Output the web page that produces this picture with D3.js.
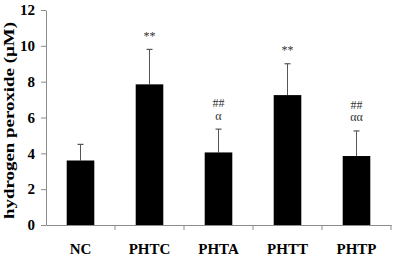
<!DOCTYPE html>
<html>
<head>
<meta charset="utf-8">
<script src="https://cdn.jsdelivr.net/npm/d3@7"></script>
<style>
  body { margin: 0; background: #fff; }
  text { font-family: "Liberation Serif", "Times New Roman", serif; }
</style>
</head>
<body>
<div id="main"></div>
<script>
const ctx = {
    w: 395,
    h: 257,
    x0: 46,
    x1: 391,
    yTop: 10,
    yBottom: 225,
    AXIS_GREY: "#8c8c8c",
};

// groups and values
const CATEGORIES = ["NC", "PHTC", "PHTA", "PHTT", "PHTP"];
const MEANS = [3.6, 7.85, 4.05, 7.25, 3.85];
const ERRORS = [0.9, 1.95, 1.3, 1.75, 1.4];
// significance marks, stacked top to bottom
const MARKS = [[], ["**"], ["##", "α"], ["**"], ["##", "αα"]];
const Y_TICKS = [0, 2, 4, 6, 8, 10, 12];
const Y_LABEL = "hydrogen peroxide (µM)";

function createViz() {
    let svgEl = d3.select("#main").append("svg")
        .attr("width", ctx.w)
        .attr("height", ctx.h);

    let x = d3.scaleBand()
        .domain(CATEGORIES)
        .range([ctx.x0, ctx.x1])
        .paddingInner(0.6)
        .paddingOuter(0.3);
    let y = d3.scaleLinear()
        .domain([0, 12])
        .range([ctx.yBottom, ctx.yTop]);

    // y axis
    let yAxis = svgEl.append("g")
        .attr("transform", `translate(${ctx.x0},0)`)
        .call(d3.axisLeft(y).tickValues(Y_TICKS).tickSize(5).tickPadding(6).tickSizeOuter(0));
    yAxis.select(".domain").attr("stroke", ctx.AXIS_GREY);
    yAxis.selectAll(".tick line").attr("stroke", ctx.AXIS_GREY);
    yAxis.selectAll(".tick text")
        .attr("font-family", "Liberation Serif")
        .attr("font-weight", "bold")
        .attr("font-size", 15)
        .attr("fill", "#000");

    // x axis: labels under bars, ticks on category boundaries
    let xAxis = svgEl.append("g")
        .attr("transform", `translate(0,${ctx.yBottom})`)
        .call(d3.axisBottom(x).tickSize(0).tickPadding(18).tickSizeOuter(0));
    xAxis.select(".domain").attr("stroke", ctx.AXIS_GREY);
    xAxis.selectAll(".tick text")
        .attr("font-family", "Liberation Serif")
        .attr("font-weight", "bold")
        .attr("font-size", 15)
        .attr("fill", "#000");
    let gap = (x.step() - x.bandwidth()) / 2;
    let bounds = CATEGORIES.slice(1).map((c) => x(c) - gap).concat([ctx.x1]);
    xAxis.selectAll(".sep")
        .data(bounds)
        .enter()
        .append("line")
        .attr("x1", (d) => d)
        .attr("x2", (d) => d)
        .attr("y1", 0)
        .attr("y2", 5)
        .attr("stroke", ctx.AXIS_GREY);

    // y axis title
    svgEl.append("text")
        .attr("transform", `translate(14,${(ctx.yTop + ctx.yBottom) / 2 + 3}) rotate(-90)`)
        .attr("text-anchor", "middle")
        .attr("font-weight", "bold")
        .attr("font-size", 14)
        .attr("textLength", 197)
        .attr("lengthAdjust", "spacingAndGlyphs")
        .text(Y_LABEL);

    // error bars (upper only)
    let eb = svgEl.append("g").selectAll("g")
        .data(CATEGORIES)
        .enter()
        .append("g");
    eb.append("line")
        .attr("x1", (d) => x(d) + x.bandwidth() / 2)
        .attr("x2", (d) => x(d) + x.bandwidth() / 2)
        .attr("y1", (d, i) => y(MEANS[i]))
        .attr("y2", (d, i) => y(MEANS[i] + ERRORS[i]))
        .attr("stroke", "#555")
        .attr("stroke-width", 1);
    eb.append("line")
        .attr("x1", (d) => x(d) + x.bandwidth() / 2 - 3)
        .attr("x2", (d) => x(d) + x.bandwidth() / 2 + 3)
        .attr("y1", (d, i) => y(MEANS[i] + ERRORS[i]))
        .attr("y2", (d, i) => y(MEANS[i] + ERRORS[i]))
        .attr("stroke", "#555")
        .attr("stroke-width", 1.2);

    // bars
    svgEl.append("g").selectAll("rect")
        .data(CATEGORIES)
        .enter()
        .append("rect")
        .attr("x", (d) => x(d))
        .attr("y", (d, i) => y(MEANS[i]))
        .attr("width", x.bandwidth())
        .attr("height", (d, i) => y(0) - y(MEANS[i]))
        .attr("fill", "#000");

    // significance marks above the error bars
    CATEGORIES.forEach(function (c, i) {
        let lines = MARKS[i];
        lines.forEach(function (m, j) {
            let offset = (lines.length - j) * 12.5 + 1;
            svgEl.append("text")
                .attr("x", x(c) + x.bandwidth() / 2)
                .attr("y", y(MEANS[i] + ERRORS[i]) - offset + 4)
                .attr("text-anchor", "middle")
                .attr("font-size", 12)
                .attr("fill", "#333")
                .text(m);
        });
    });
};

createViz();
</script>
</body>
</html>
